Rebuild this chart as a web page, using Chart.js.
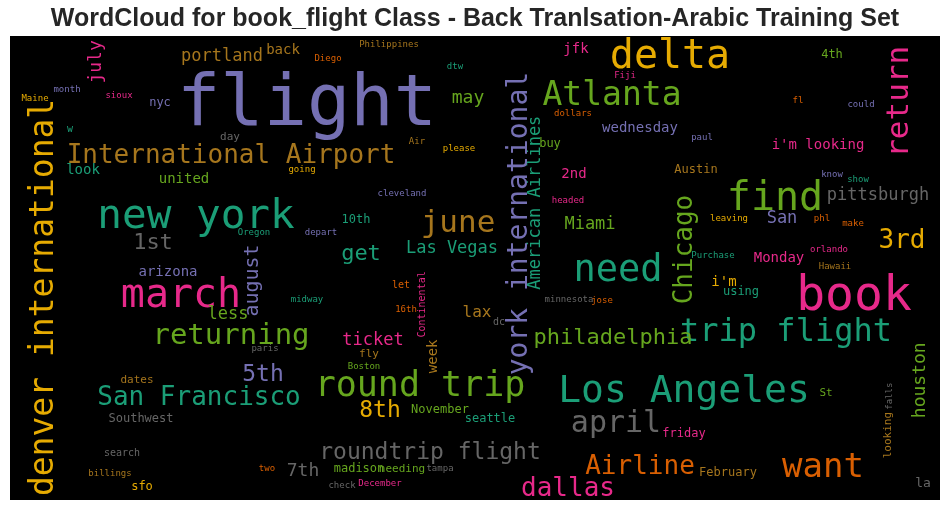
<!DOCTYPE html>
<html>
<head>
<meta charset="utf-8">
<script src="https://cdn.jsdelivr.net/npm/chart.js@4/dist/chart.umd.min.js"></script>
<style>
  html, body { margin: 0; padding: 0; background: #ffffff; }
  canvas { display: block; }
</style>
</head>
<body>
<canvas id="c" width="950" height="511"></canvas>
<script>
// ---- Data: words of the cloud ----
const words = [
  "flight","delta","Atlanta","International Airport","portland","back","july","Maine","month","sioux",
  "nyc","w","day","look","united","going","Philippines","Diego","dtw","jfk",
  "may","Fiji","dollars","wednesday","Air","please","buy","2nd","cleveland","fl",
  "could","4th","return","paul","i'm looking","Austin","know","show","find","pittsburgh",
  "San","leaving","phl","make","3rd","Chicago","Purchase","Monday","orlando","Hawaii",
  "i'm","using","book","trip flight","need","Miami","headed","American Airlines","york international","minnesota",
  "jose","dc","philadelphia","Los Angeles","april","friday","St","houston","falls","looking",
  "want","February","la","Airline","dallas","roundtrip flight","madison","needing","tampa","check",
  "December","round trip","8th","November","seattle","week","fly","Boston","ticket","Continental",
  "let","16th","lax","get","Las Vegas","june","10th","depart","Oregon","midway",
  "paris","new york","1st","arizona","march","august","less","returning","denver international","5th",
  "dates","San Francisco","Southwest","search","billings","sfo","two","7th"
];
// word weight (relative frequency, drawn as font size in cloud units)
const weights = [
  72,40,33,26,17,14,18,9,9,9,
  12,10,11,14,14,9,9,9,9,14,
  18,9,9,14,9,9,12,14,9,9,
  9,12,31,9,14,12,9,9,40,17,
  17,9,9,9,26,26,9,14,9,9,
  14,12,48,32,37,17,9,17,28,9,
  9,10,22,38,30,12,11,18,9,11,
  34,12,13,26,26,23,12,11,9,9,
  9,35,23,12,12,14,11,9,17,10,
  10,9,16,22,17,31,12,9,9,9,
  9,41,22,14,40,20,17,29,33,23,
  11,26,12,10,9,12,9,18
];
// cloud layout anchors (cloud units, 930 x 465 canvas of the cloud)
const cloudX = [
  297,660,602,221,212,273,91,25,57,109,
  150,60,220,73,174,292,379,318,445,566,
  458,615,563,630,407,449,540,564,392,788,
  851,822,898,692,808,686,822,848,765,868,
  772,719,812,843,892,682,703,769,819,825,
  714,731,844,776,608,580,558,530,517,559,
  592,489,603,674,606,674,816,915,882,881,
  813,718,913,630,558,420,349,392,430,332,
  370,410,370,430,480,427,359,354,363,415,
  391,396,467,351,442,448,346,311,244,297,
  255,186,143,158,171,248,218,221,43,253,
  127,189,131,112,100,132,257,293
];
const cloudY = [
  89,32,69,127,25,18,26,65,56,62,
  70,96,104,138,147,136,11,25,33,17,
  67,42,80,96,108,115,111,142,160,67,
  71,22,66,104,113,137,141,146,174,164,
  187,185,185,190,212,214,222,226,216,234,
  251,260,275,306,246,193,167,167,188,267,
  268,290,309,367,397,402,361,345,361,400,
  442,441,452,439,461,424,437,437,436,453,
  451,361,382,378,387,321,322,334,310,269,
  253,277,282,224,217,196,187,199,199,267,
  316,192,213,241,272,245,284,309,262,346,
  348,370,387,421,441,455,436,441
];
// 1 = word set vertically (reads bottom to top)
const vertical = [
  0,0,0,0,0,0,1,0,0,0,
  0,0,0,0,0,0,0,0,0,0,
  0,0,0,0,0,0,0,0,0,0,
  0,0,1,0,0,0,0,0,0,0,
  0,0,0,0,0,1,0,0,0,0,
  0,0,0,0,0,0,0,1,1,0,
  0,0,0,0,0,0,0,1,1,1,
  0,0,0,0,0,0,0,0,0,0,
  0,0,0,0,0,1,0,0,0,1,
  0,0,0,0,0,0,0,0,0,0,
  0,0,0,0,0,1,0,0,1,0,
  0,0,0,0,0,0,0,0
];
// colour group index into the Dark2 palette
const colourGroup = [
  2,5,4,6,6,6,3,5,2,3,
  2,0,7,0,4,5,6,1,0,3,
  4,3,1,2,6,5,4,3,2,1,
  2,4,3,2,3,6,2,0,4,7,
  2,5,1,1,5,4,0,3,3,6,
  5,0,3,0,0,4,3,0,2,7,
  1,7,4,0,7,3,4,4,7,6,
  1,6,7,1,3,7,4,4,7,7,
  3,4,5,4,0,6,6,4,3,3,
  1,1,6,0,0,6,0,2,0,0,
  7,0,7,2,3,2,4,4,5,2,
  6,0,7,7,6,5,1,7
];
const dark2 = ["#1b9e77","#d95f02","#7570b3","#e7298a","#66a61e","#e6ab02","#a6761d","#666666"];
const titleText = "WordCloud for book_flight Class - Back Tranlsation-Arabic Training Set";
const CLOUD_W = 930, CLOUD_H = 465;

const points = words.map((w, i) => ({ x: cloudX[i], y: cloudY[i] }));

const cloudPlugin = {
  id: 'cloud',
  beforeDraw(chart) {
    const { ctx, chartArea: a } = chart;
    ctx.save();
    ctx.fillStyle = '#000000';
    ctx.fillRect(a.left, a.top, a.right - a.left, a.bottom - a.top);
    ctx.restore();
  },
  afterDatasetsDraw(chart) {
    const { ctx, chartArea: a } = chart;
    const meta = chart.getDatasetMeta(0);
    const k = (a.right - a.left) / CLOUD_W;
    ctx.save();
    ctx.beginPath();
    ctx.rect(a.left, a.top, a.right - a.left, a.bottom - a.top);
    ctx.clip();
    meta.data.forEach((el, i) => {
      const size = weights[i] * k;
      ctx.save();
      ctx.font = size + 'px "DejaVu Sans Mono"';
      ctx.fillStyle = dark2[colourGroup[i]];
      ctx.textAlign = 'center';
      ctx.textBaseline = 'alphabetic';
      ctx.translate(el.x, el.y);
      if (vertical[i]) ctx.rotate(-Math.PI / 2);
      ctx.fillText(words[i], 0, 0);
      ctx.restore();
    });
    ctx.restore();
  }
};

new Chart(document.getElementById('c'), {
  type: 'scatter',
  data: {
    datasets: [{
      data: points,
      pointRadius: 0,
      pointHoverRadius: 0,
      showLine: false
    }]
  },
  options: {
    responsive: false,
    devicePixelRatio: 1,
    animation: false,
    events: [],
    layout: { padding: { left: 10, right: 10, top: 0, bottom: 11 } },
    plugins: {
      legend: { display: false },
      tooltip: { enabled: false },
      title: {
        display: true,
        text: titleText,
        color: '#262626',
        font: { family: '"Liberation Sans", Arial, sans-serif', size: 25, weight: 'bold', lineHeight: 1.2 },
        padding: { top: 4, bottom: 2 }
      }
    },
    scales: {
      x: { type: 'linear', min: 0, max: CLOUD_W, display: false },
      y: { type: 'linear', min: 0, max: CLOUD_H, reverse: true, display: false }
    }
  },
  plugins: [cloudPlugin]
});
</script>
</body>
</html>
